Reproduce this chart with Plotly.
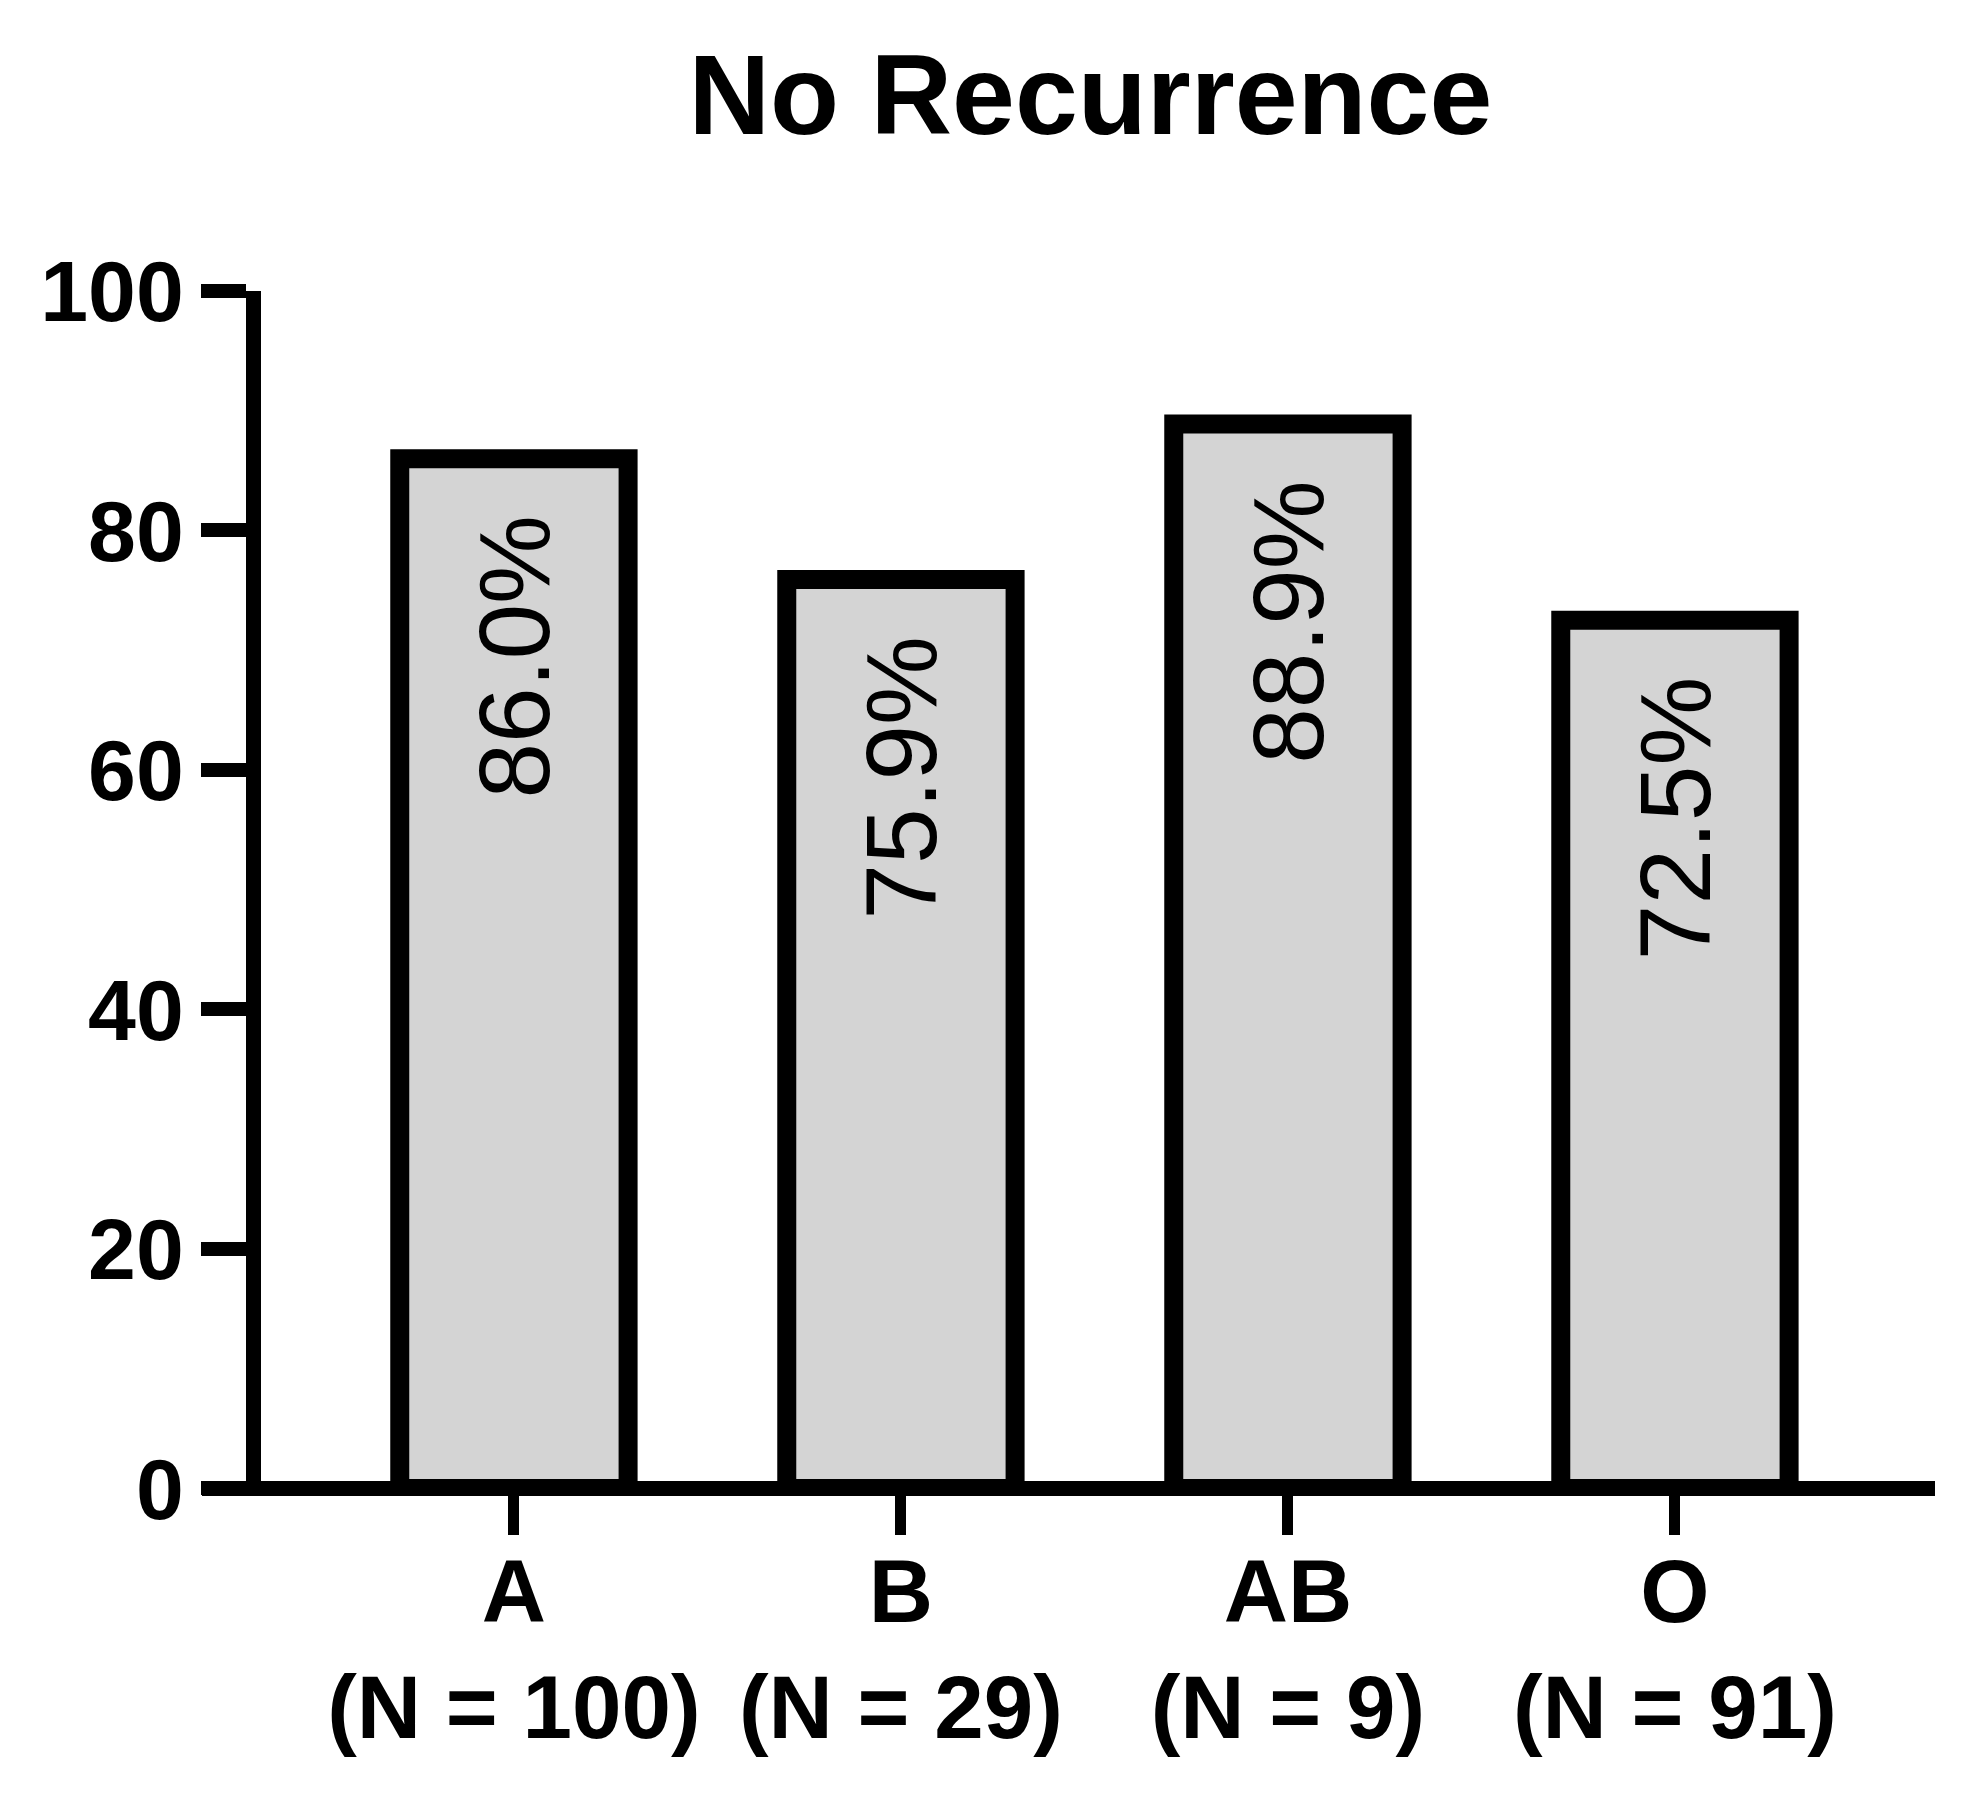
import plotly.graph_objects as go

groups = ["A", "B", "AB", "O"]
group_n = [100, 29, 9, 91]
no_recurrence_pct = [86.0, 75.9, 88.9, 72.5]
y_ticks = [0, 20, 40, 60, 80, 100]

tick_text = [f"{g}<br>(N = {n})" for g, n in zip(groups, group_n)]

fig = go.Figure(
    go.Bar(
        x=groups,
        y=no_recurrence_pct,
        width=0.59,
        marker=dict(color="#d4d4d4", line=dict(color="black", width=19)),
        cliponaxis=False,
    )
)

# rotated value labels inside the bars, hanging from the top
for g, v in zip(groups, no_recurrence_pct):
    fig.add_annotation(
        x=g, y=v, text=f"{v:.1f}%",
        textangle=-90, showarrow=False,
        xanchor="center", yanchor="top", yshift=-54,
        font=dict(family="Liberation Sans, Arial", size=100, color="black"),
    )

fig.update_layout(
    width=1986,
    height=1811,
    margin=dict(l=194, r=59, t=283, b=327),
    plot_bgcolor="white",
    paper_bgcolor="white",
    showlegend=False,
    font=dict(family="Liberation Sans, Arial", color="black"),
    title=dict(
        text="<b>No Recurrence</b>",
        x=0.545,
        xanchor="center",
        y=0.952,
        yanchor="middle",
        font=dict(size=113, color="black"),
    ),
)

# the baseline is the y zero line, so the x axis itself shows no line
fig.update_xaxes(
    range=[-0.806, 3.672],
    tickmode="array",
    tickvals=groups,
    ticktext=[f"<b>{t}</b>" for t in tick_text],
    showline=False,
    ticks="outside",
    ticklen=42,
    tickwidth=11,
    tickcolor="black",
    tickfont=dict(size=89),
    ticklabelstandoff=-20,
    showgrid=False,
    zeroline=False,
)

fig.update_yaxes(
    range=[-0.3, 100],
    anchor="free",
    position=0.0294,
    tickvals=y_ticks,
    ticktext=[f"<b>{t}</b>" for t in y_ticks],
    showline=True,
    linecolor="black",
    linewidth=15,
    ticks="outside",
    ticklen=45,
    tickwidth=14,
    tickcolor="black",
    tickfont=dict(size=86),
    ticklabelstandoff=0,
    showgrid=False,
    zeroline=True,
    zerolinecolor="black",
    zerolinewidth=15,
)

fig.write_html("out.html")
